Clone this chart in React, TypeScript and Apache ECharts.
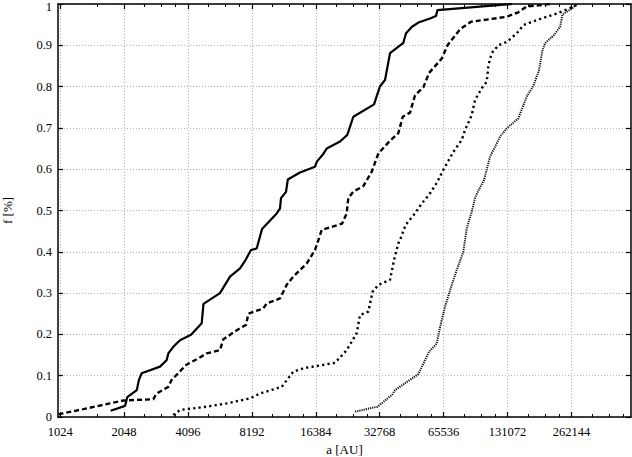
import React, { useEffect, useRef } from "react";
import * as echarts from "echarts";

// a [AU] and f values for the four distributions
const solidA = [1770, 2070, 2120, 2350, 2406, 2478, 3023, 3252, 3308, 3492, 3756, 4232, 4752, 4845, 5793, 6459, 7201, 7643, 8100, 8626, 9142, 10720, 11110, 11230, 11860, 12090, 13800, 16230, 16600, 17530, 18440, 21300, 23050, 24610, 30800, 32870, 34700, 36640, 42330, 43580, 46500, 49810, 56530, 60360, 61210, 137600];
const solidF = [0.015, 0.027, 0.048, 0.065, 0.09, 0.106, 0.122, 0.138, 0.154, 0.17, 0.186, 0.199, 0.227, 0.274, 0.3, 0.34, 0.36, 0.38, 0.404, 0.408, 0.455, 0.493, 0.505, 0.53, 0.545, 0.575, 0.592, 0.606, 0.619, 0.633, 0.65, 0.667, 0.683, 0.727, 0.757, 0.801, 0.816, 0.881, 0.906, 0.929, 0.945, 0.955, 0.965, 0.971, 0.985, 1.0];

const dashedA = [1005, 1316, 1757, 2040, 2811, 2917, 3308, 3432, 4013, 4503, 5017, 5793, 6006, 6948, 7686, 7881, 9266, 9617, 11110, 11950, 12840, 14850, 16230, 16540, 17470, 21770, 22860, 23310, 24610, 27430, 30050, 32280, 36640, 40080, 42050, 45510, 48050, 52570, 55940, 64230, 68360, 78320, 88210, 130000, 147300, 161400, 210100];
const dashedF = [0.0065, 0.019, 0.033, 0.04, 0.043, 0.057, 0.073, 0.09, 0.126, 0.14, 0.154, 0.162, 0.188, 0.21, 0.223, 0.25, 0.263, 0.275, 0.287, 0.32, 0.34, 0.372, 0.404, 0.416, 0.453, 0.468, 0.492, 0.53, 0.546, 0.559, 0.594, 0.638, 0.669, 0.687, 0.727, 0.737, 0.779, 0.798, 0.833, 0.868, 0.9, 0.939, 0.957, 0.969, 0.98, 0.994, 1.0];

const dottedA = [3492, 3756, 5017, 6234, 8024, 8945, 11320, 12840, 14300, 20170, 22900, 25530, 26460, 28960, 30300, 32280, 36640, 38270, 40080, 40860, 43360, 48050, 51670, 55940, 61020, 65230, 72830, 79760, 82640, 88880, 92110, 99080, 104600, 106500, 110400, 118600, 130000, 144800, 155600, 179900, 223500, 258200, 277600];
const dottedF = [0.005, 0.017, 0.025, 0.033, 0.045, 0.057, 0.073, 0.11, 0.118, 0.131, 0.162, 0.203, 0.247, 0.255, 0.303, 0.32, 0.332, 0.38, 0.42, 0.429, 0.465, 0.493, 0.517, 0.538, 0.568, 0.598, 0.642, 0.671, 0.695, 0.731, 0.768, 0.796, 0.812, 0.852, 0.881, 0.9, 0.908, 0.929, 0.949, 0.961, 0.977, 0.99, 0.998];

const fineA = [25060, 32000, 37660, 38670, 49810, 55940, 60820, 63050, 66540, 71570, 75560, 81130, 84210, 88880, 92110, 94170, 101600, 108400, 120900, 130000, 147300, 161400, 173400, 184400, 191600, 196900, 217100, 231700, 238100, 265300, 277600];
const fineF = [0.013, 0.025, 0.055, 0.065, 0.104, 0.158, 0.178, 0.218, 0.267, 0.32, 0.356, 0.4, 0.457, 0.497, 0.53, 0.542, 0.574, 0.63, 0.679, 0.699, 0.723, 0.776, 0.802, 0.84, 0.889, 0.905, 0.925, 0.945, 0.975, 0.99, 1.0];

const majorTicks = [1024, 2048, 4096, 8192, 16384, 32768, 65536, 131072, 262144];
const minorTicks = [1536, 2560, 3072, 3584, 5120, 6144, 7168, 10240, 12288, 14336, 20480, 24576, 28672, 40960, 49152, 57344, 81920, 98304, 114688, 163840, 196608, 229376, 327680, 393216, 458752];

const FONT = "'Liberation Serif', 'Times New Roman', serif";
const X_MIN = 1000;
const X_MAX = 500000;

const zip = (a: number[], f: number[]) => a.map((v, i) => [v, f[i]]);

export default function App() {
  const ref = useRef<HTMLDivElement>(null);
  useEffect(() => {
    if (!ref.current) return;
    const chart = echarts.init(ref.current, null, { renderer: "svg" });
    const baseX = {
      type: "log" as const,
      logBase: 2,
      min: X_MIN,
      max: X_MAX,
      gridIndex: 0,
    };
    chart.setOption({
      animation: false,
      backgroundColor: "#ffffff",
      grid: { left: 58, right: 1, top: 4, bottom: 40, containLabel: false, outerBoundsMode: "none" },
      xAxis: [
        {
          ...baseX,
          position: "bottom",
          name: "a [AU]",
          nameLocation: "middle",
          nameGap: 23,
          nameTextStyle: { fontFamily: FONT, fontSize: 13, color: "#000" },
          axisLine: { show: true, lineStyle: { color: "#000", width: 1.5 } },
          axisTick: { show: true, inside: true, length: 5, customValues: majorTicks, lineStyle: { color: "#000", width: 1.2 } },
          axisLabel: {
            show: true,
            customValues: majorTicks,
            margin: 8,
            fontFamily: FONT,
            fontSize: 12.5,
            color: "#000",
            formatter: (v: number) => String(Math.round(v)),
          },
          splitLine: { show: true, lineStyle: { color: "#b4b4b4", type: [1, 2], width: 1 } },
          minorTick: { show: false },
        },
        {
          ...baseX,
          position: "bottom",
          axisLine: { show: false },
          axisTick: { show: true, inside: true, length: 3, customValues: minorTicks, lineStyle: { color: "#000", width: 1 } },
          axisLabel: { show: false },
          splitLine: { show: false },
        },
        {
          ...baseX,
          position: "top",
          axisLine: { show: true, lineStyle: { color: "#000", width: 1.5 } },
          axisTick: { show: true, inside: true, length: 5, customValues: majorTicks, lineStyle: { color: "#000", width: 1.2 } },
          axisLabel: { show: false },
          splitLine: { show: false },
        },
        {
          ...baseX,
          position: "top",
          axisLine: { show: false },
          axisTick: { show: true, inside: true, length: 3, customValues: minorTicks, lineStyle: { color: "#000", width: 1 } },
          axisLabel: { show: false },
          splitLine: { show: false },
        },
      ],
      yAxis: [
        {
          type: "value",
          min: 0,
          max: 1,
          interval: 0.1,
          position: "left",
          name: "f [%]",
          nameLocation: "middle",
          nameGap: 44,
          nameRotate: 90,
          nameTextStyle: { fontFamily: FONT, fontSize: 13, color: "#000" },
          axisLine: { show: true, lineStyle: { color: "#000", width: 1.5 } },
          axisTick: { show: true, inside: true, length: 5, lineStyle: { color: "#000", width: 1.2 } },
          axisLabel: {
            margin: 6,
            fontFamily: FONT,
            fontSize: 12.5,
            color: "#000",
            formatter: (v: number) => {
              const s = String(Math.round(v * 10) / 10);
              return v >= 1 ? "{top|" + s + "}" : s;
            },
            rich: {
              top: { fontFamily: FONT, fontSize: 12.5, color: "#000", padding: [5, 0, 0, 0] },
            },
          },
          splitLine: { show: true, lineStyle: { color: "#b4b4b4", type: [1, 2], width: 1 } },
        },
        {
          type: "value",
          min: 0,
          max: 1,
          interval: 0.1,
          position: "right",
          axisLine: { show: true, lineStyle: { color: "#000", width: 1.5 } },
          axisTick: { show: true, inside: true, length: 5, lineStyle: { color: "#000", width: 1.2 } },
          axisLabel: { show: false },
          splitLine: { show: false },
        },
      ],
      series: [
        {
          type: "line",
          xAxisIndex: 0,
          yAxisIndex: 0,
          data: zip(solidA, solidF),
          showSymbol: false,
          symbol: "none",
          lineStyle: { color: "#000", width: 2.2, type: "solid" },
        },
        {
          type: "line",
          xAxisIndex: 0,
          yAxisIndex: 0,
          data: zip(dashedA, dashedF),
          showSymbol: false,
          symbol: "none",
          lineStyle: { color: "#000", width: 2.4, type: [5, 3], cap: "butt" },
        },
        {
          type: "line",
          xAxisIndex: 0,
          yAxisIndex: 0,
          data: zip(dottedA, dottedF),
          showSymbol: false,
          symbol: "none",
          lineStyle: { color: "#000", width: 2.4, type: [2.2, 3.2], cap: "butt" },
        },
        {
          type: "line",
          xAxisIndex: 0,
          yAxisIndex: 0,
          data: zip(fineA, fineF),
          showSymbol: false,
          symbol: "none",
          lineStyle: { color: "#111", width: 2, type: [1.2, 1], cap: "butt" },
        },
      ],
    });
    return () => chart.dispose();
  }, []);
  return (
    <div
      ref={ref}
      style={{ position: "absolute", left: 0, top: 0, width: 632, height: 457, background: "#fff" }}
    />
  );
}
